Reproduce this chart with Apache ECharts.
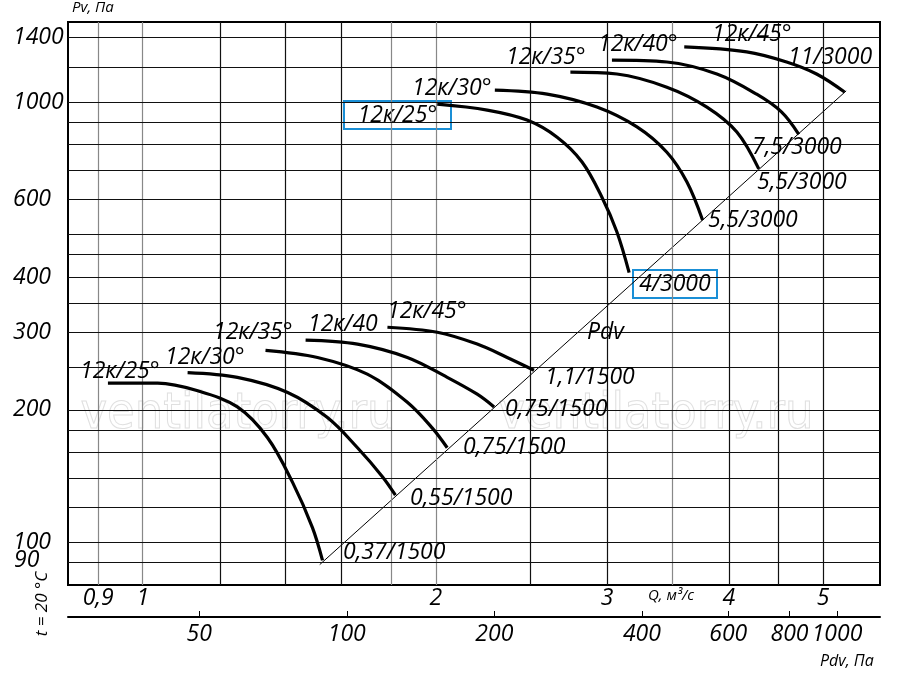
<!DOCTYPE html>
<html><head><meta charset="utf-8">
<script src="https://cdn.jsdelivr.net/npm/echarts@6/dist/echarts.min.js"></script>
<style>html,body{margin:0;padding:0;background:#fff}#c{width:900px;height:673px}</style>
</head><body><div id="c"></div>
<script>
// ---- data ----
const qTicks = [0.9, 1, 2, 3, 4, 5];
const pvTicks = [100, 200, 300, 400, 600, 1000, 1400];
const pvLowTick = '90';
const pdvTicks = [50, 100, 200, 400, 600, 800, 1000];
const qGrid = [0.9, 1, 1.2, 1.4, 1.6, 1.8, 2, 2.5, 3, 3.5, 4, 4.5, 5];
const qGridGray = [0.9, 1, 1.8, 2, 3.5];
const pvGrid = [90, 100, 120, 140, 160, 180, 200, 250, 300, 350, 400, 450, 500, 600, 700, 800, 900, 1000, 1200, 1400];

// 1500 rpm curves
const qL25 = [0.921, 1.036, 1.139, 1.251, 1.343, 1.425, 1.494, 1.53];
const pL25 = [230, 230, 221, 203, 173, 137, 108, 91];
const qL30 = [1.112, 1.251, 1.409, 1.548, 1.662, 1.763, 1.818];
const pL30 = [243, 237, 219, 192, 164, 141, 128];
const qL35 = [1.337, 1.512, 1.701, 1.870, 1.983, 2.055];
const pL35 = [273, 263, 241, 208, 182, 164];
const qL40 = [1.47, 1.662, 1.870, 2.055, 2.206, 2.296];
const pL40 = [288, 282, 263, 237, 217, 203];
const qL45 = [1.784, 2.007, 2.206, 2.368, 2.523];
const pL45 = [308, 300, 282, 263, 246];
// 3000 rpm curves
const qU25 = [2.007, 2.259, 2.482, 2.665, 2.827, 2.963, 3.07, 3.16];
const pU25 = [989, 959, 910, 832, 731, 608, 507, 410];
const qU30 = [2.30, 2.603, 2.928, 3.219, 3.455, 3.623, 3.76];
const pU30 = [1064, 1042, 974, 878, 769, 658, 539];
const qU35 = [2.75, 3.07, 3.455, 3.798, 4.077, 4.294];
const pU35 = [1170, 1158, 1081, 974, 855, 705];
const qU40 = [3.034, 3.455, 3.889, 4.273, 4.533, 4.72];
const pU40 = [1245, 1233, 1158, 1042, 949, 845];
const qU45 = [3.60, 4.173, 4.586, 4.923, 5.26];
const pU45 = [1334, 1300, 1233, 1158, 1054];
// Pdv line
const qPdv = [1.52, 5.28];
const pPdv = [89, 1060];

const zip = (a, b) => a.map((v, i) => [v, b[i]]);
const curves = [[qL25,pL25],[qL30,pL30],[qL35,pL35],[qL40,pL40],[qL45,pL45],[qU25,pU25],[qU30,pU30],[qU35,pU35],[qU40,pU40],[qU45,pU45]];

const F = 'Open Sans';
const FS = 23;
const txt = (x, y, s, size) => ({type:'text', left:x, top:y, z:10,
  style:{text:s, font:'italic '+(size||FS)+'px "'+F+'"', fill:'#000'}});
const boxTxt = (x, y, w, s) => ({type:'group', left:x, top:y, z:10, children:[
  {type:'rect', shape:{x:0,y:0,width:w,height:28}, style:{fill:'#fff', stroke:'#1a8fd6', lineWidth:2}},
  {type:'text', x:w/2, y:14, style:{text:s, font:'italic '+FS+'px "'+F+'"', fill:'#000', align:'center', verticalAlign:'middle'}}]});

const series = [];
series.push({type:'line', data:[], markLine:{silent:true, symbol:'none', label:{show:false}, animation:false,
  data: qGrid.map(v => ({xAxis:v, lineStyle:{color: qGridGray.includes(v)?'#888':'#111', width:1.2, type:'solid'}}))
    .concat(pvGrid.map(v => ({yAxis:v, lineStyle:{color:'#111', width:1.1, type:'solid'}})))}});
curves.forEach(c => series.push({type:'line', data:zip(c[0],c[1]), smooth:0.35, showSymbol:false,
  lineStyle:{color:'#000', width:3.2}, z:5, animation:false}));
series.push({type:'line', data:zip(qPdv,pPdv), showSymbol:false, lineStyle:{color:'#000', width:1}, z:4, animation:false});
series.push({type:'line', xAxisIndex:1, data:[], animation:false});

const lab = {color:'#000', fontStyle:'italic', fontFamily:F, fontSize:FS, hideOverlap:false, interval:0};
const chart = echarts.init(document.getElementById('c'));
chart.setOption({
  animation:false,
  grid:{left:68, right:20, top:22, bottom:88, show:true, borderColor:'#000', borderWidth:2},
  xAxis:[
    {type:'log', min:0.838, max:5.72, position:'bottom', splitLine:{show:false}, axisTick:{show:false},
     axisLine:{lineStyle:{color:'#000', width:2}},
     axisLabel:Object.assign({customValues:qTicks, margin:2, formatter:v => String(v).replace('.', ',')}, lab)},
    {type:'log', min:27, max:1224, position:'bottom', offset:32, splitLine:{show:false},
     axisLine:{lineStyle:{color:'#000', width:2}},
     axisTick:{customValues:pdvTicks, inside:true, length:6, lineStyle:{color:'#000'}},
     axisLabel:Object.assign({customValues:pdvTicks, margin:6, formatter:v => String(v)}, lab)}
  ],
  yAxis:{type:'log', min:80, max:1520, splitLine:{show:false}, axisTick:{show:false},
    axisLine:{show:true, lineStyle:{color:'#000', width:2}},
    axisLabel:Object.assign({customValues:pvTicks, align:'left', margin:55, formatter:v => String(v)}, lab)},
  series: series,
  graphic:[
    {type:'text', left:80, top:390, z:1, style:{text:'ventilatorry.ru', font:'50px "DejaVu Sans Condensed"', fill:'rgba(0,0,0,0)', stroke:'#e0e0e0', lineWidth:1}},
    {type:'text', left:498, top:390, z:1, style:{text:'ventilatorry.ru', font:'50px "DejaVu Sans Condensed"', fill:'rgba(0,0,0,0)', stroke:'#e0e0e0', lineWidth:1}},
    txt(14, 549, pvLowTick),
    txt(72, 0, 'Pv, Па', 15),
    txt(648, 588, 'Q, м³/с', 15),
    txt(820, 653, 'Pdv, Па', 16),
    {type:'text', x:42, y:604, rotation:Math.PI/2, z:10, style:{text:'t = 20 °C', font:'italic 17px "'+F+'"', fill:'#000', align:'center', verticalAlign:'middle'}},
    // lower labels
    txt(80, 360, '12к/25°'), txt(165, 346, '12к/30°'), txt(213, 321, '12к/35°'),
    txt(308, 313, '12к/40'), txt(387, 300, '12к/45°'),
    txt(343, 541, '0,37/1500'), txt(410, 487, '0,55/1500'), txt(463, 436, '0,75/1500'),
    txt(505, 398, '0,75/1500'), txt(545, 366, '1,1/1500'),
    // upper labels
    boxTxt(343, 100, 107, '12к/25°'),
    txt(412, 77, '12к/30°'), txt(506, 46, '12к/35°'), txt(598, 33, '12к/40°'), txt(712, 23, '12к/45°'),
    txt(788, 46, '11/3000'), txt(752, 136, '7,5/3000'), txt(757, 171, '5,5/3000'), txt(708, 209, '5,5/3000'),
    boxTxt(632, 269, 84, '4/3000'),
    txt(587, 321, 'Pdv')
  ]
});
</script></body></html>
